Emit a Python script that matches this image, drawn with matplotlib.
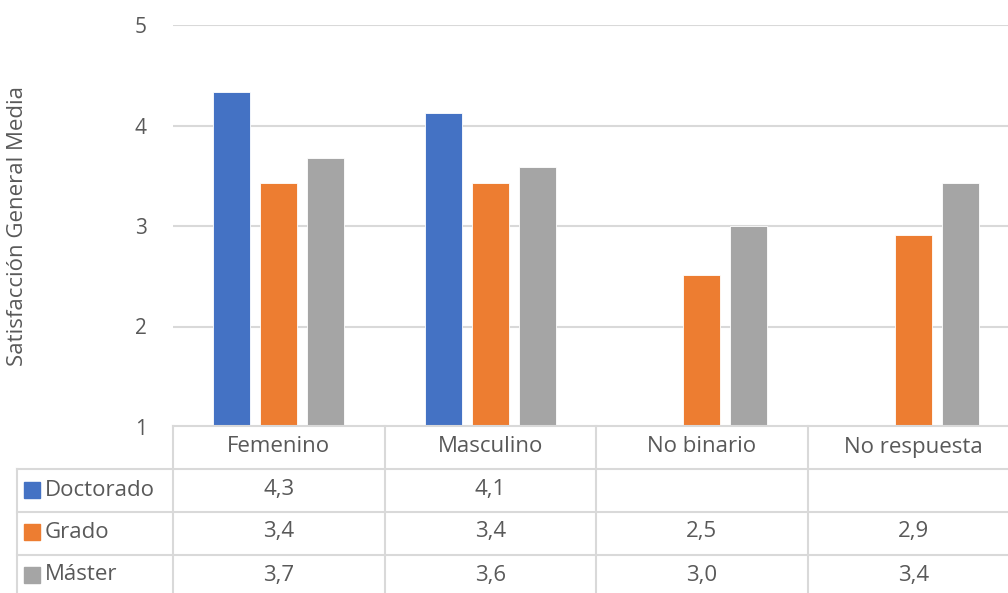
import matplotlib.pyplot as plt
import matplotlib.transforms as mtransforms
from matplotlib.patches import Rectangle
from matplotlib.lines import Line2D
import numpy as np

categorias = ["Femenino", "Masculino", "No binario", "No respuesta"]
series = ["Doctorado", "Grado", "Máster"]
doctorado = [4.33, 4.12, np.nan, np.nan]
grado = [3.43, 3.43, 2.51, 2.91]
master = [3.68, 3.59, 3.00, 3.43]
colores = ["#4472C4", "#ED7D31", "#A5A5A5"]

plt.rcParams['font.family'] = ['Open Sans', 'DejaVu Sans']
gris = "#595959"
linea = "#D9D9D9"
fs = 16

W, H = 1008, 593
fig = plt.figure(figsize=(W / 100, H / 100), dpi=100)
ax = fig.add_axes([173 / W, 1 - 427 / H, 846 / W, 402 / H])

def fy(p):
    return 1 - p / H

x = np.arange(len(categorias))
ancho = 0.175
paso = 0.222
valores = [doctorado, grado, master]
for i, (nombre, vals) in enumerate(zip(series, valores)):
    ax.bar(x + (i - 1) * paso, vals, ancho, color=colores[i],
           edgecolor="white", linewidth=0.6, zorder=2)

ax.set_xlim(-0.5, len(categorias) - 0.5)
ax.set_ylim(1, 5)
ax.set_yticks([1, 2, 3, 4, 5])
ax.set_xticks([])
ax.yaxis.grid(True, color=linea, linewidth=1.5, zorder=0)
ax.set_axisbelow(True)
ax.tick_params(axis="y", length=0, pad=19, labelsize=15, labelcolor=gris)
for s in ax.spines.values():
    s.set_visible(False)

fig.text(18 / W, fy(226), "Satisfacción General Media", rotation=90,
         ha="center", va="center", fontsize=fs, color=gris)

# tabla de datos
trans = mtransforms.blended_transform_factory(ax.transData, fig.transFigure)
n = len(categorias)
ax.add_line(Line2D([-0.5, n - 0.5], [fy(426)] * 2, transform=trans,
                   color=linea, lw=1.5, clip_on=False))
for yp in [469, 512, 555]:
    fig.add_artist(Line2D([17 / W, 1.0], [fy(yp)] * 2, transform=fig.transFigure,
                          color=linea, lw=1.5))
for b in range(n + 1):
    ax.add_line(Line2D([b - 0.5] * 2, [fy(426), fy(600)], transform=trans,
                       color=linea, lw=1.5, clip_on=False))
fig.add_artist(Line2D([17 / W] * 2, [fy(469), fy(600)], transform=fig.transFigure,
                      color=linea, lw=1.5))

for i, c in enumerate(categorias):
    ax.text(i, fy(447), c, transform=trans, ha="center", va="center",
            fontsize=fs, color=gris)

filas = [490, 532, 575]
for k, (nombre, vals) in enumerate(zip(series, valores)):
    yc = fy(filas[k])
    fig.add_artist(Rectangle((24 / W, yc - 8 / H), 16 / W, 16 / H,
                             transform=fig.transFigure, color=colores[k]))
    fig.text(45 / W, yc, nombre, ha="left", va="center", fontsize=fs, color=gris)
    for i, v in enumerate(vals):
        if not np.isnan(v):
            ax.text(i, yc, f"{v:.1f}".replace(".", ","), transform=trans,
                    ha="center", va="center", fontsize=fs, color=gris)

fig.savefig("out.png", dpi=100)
